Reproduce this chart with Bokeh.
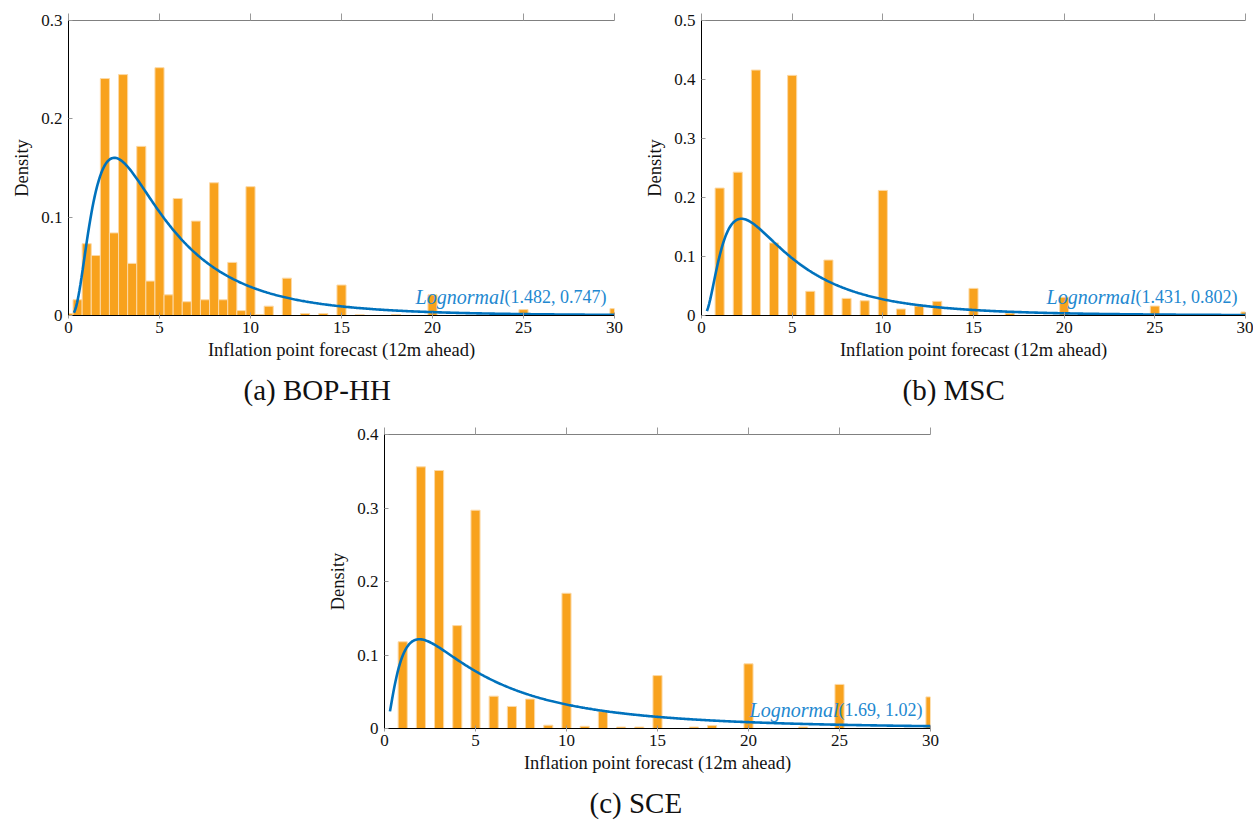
import numpy as np
from bokeh.plotting import figure
from bokeh.models import FixedTicker, LinearAxis, Title, Spacer, Range1d
from bokeh.layouts import row, column
from bokeh.core.properties import value
from bokeh.embed import file_html
from bokeh.resources import INLINE

# ---------------- data ----------------
x_ticks = [0, 5, 10, 15, 20, 25, 30]

# (a) BOP-HH: histogram bins (width 0.5) centred at these forecast values
bop_x = [0, 0.5, 1, 1.5, 2, 2.5, 3, 3.5, 4, 4.5, 5, 5.5, 6, 6.5, 7, 7.5, 8, 8.5,
         9, 9.5, 10, 10.5, 11, 12, 13, 14, 15, 16, 18, 20, 25, 30]
bop_density = [0.002, 0.016, 0.073, 0.061, 0.241, 0.084, 0.245, 0.053, 0.172, 0.035,
               0.252, 0.021, 0.119, 0.014, 0.096, 0.016, 0.135, 0.016, 0.054, 0.005,
               0.131, 0.001, 0.0095, 0.038, 0.002, 0.002, 0.031, 0.0008, 0.001,
               0.021, 0.006, 0.007]
bop_params = [1.482, 0.747]
bop_yticks = [0, 0.1, 0.2, 0.3]

# (b) MSC
msc_x = [1, 2, 3, 4, 5, 6, 7, 8, 9, 10, 11, 12, 13, 15, 17, 20, 25, 30]
msc_density = [0.216, 0.243, 0.416, 0.123, 0.407, 0.041, 0.094, 0.029, 0.025, 0.212,
               0.011, 0.016, 0.024, 0.046, 0.004, 0.031, 0.016, 0.006]
msc_params = [1.431, 0.802]
msc_yticks = [0, 0.1, 0.2, 0.3, 0.4, 0.5]

# (c) SCE
sce_x = [1, 2, 3, 4, 5, 6, 7, 8, 9, 10, 11, 12, 13, 14, 15, 17, 18, 20, 23, 25, 30]
sce_density = [0.118, 0.356, 0.351, 0.140, 0.297, 0.044, 0.030, 0.040, 0.0045, 0.184,
               0.003, 0.023, 0.002, 0.002, 0.072, 0.002, 0.004, 0.088, 0.002, 0.060,
               0.043]
sce_params = [1.69, 1.02]
sce_yticks = [0, 0.1, 0.2, 0.3, 0.4]

captions = ["(a) BOP-HH", "(b) MSC", "(c) SCE"]
param_texts = ["(1.482, 0.747)", "(1.431, 0.802)", "(1.69, 1.02)"]

# ---------------- style ----------------
FONT = "'Liberation Serif', serif"
BAR = "#F8A21D"
BAR_EDGE = "#FCD9A6"
CURVE = "#0072BD"
LABEL = "#2288D0"


def lognormal_pdf(x, mu, sigma):
    return np.exp(-(np.log(x) - mu) ** 2 / (2 * sigma ** 2)) / (x * sigma * np.sqrt(2 * np.pi))


def fmt(v):
    return "0" if v == 0 else ("%g" % v)


def panel(bx, bh, ymax, yticks, params, ptext, caption, fw, fh, bb, br, cap_off, ptext_w):
    p = figure(frame_width=fw, frame_height=fh, x_range=Range1d(0, 30),
               y_range=Range1d(0, ymax), output_backend="svg", toolbar_location=None,
               min_border_left=68, min_border_right=br, min_border_top=20,
               min_border_bottom=bb)
    p.outline_line_color = None
    p.xgrid.visible = False
    p.ygrid.visible = False

    p.vbar(x=bx, top=bh, width=0.5, bottom=0, fill_color=BAR, line_color=BAR_EDGE,
           line_width=1)

    xs = np.linspace(0.3, 30, 500)
    p.line(xs, lognormal_pdf(xs, params[0], params[1]), line_color=CURVE, line_width=2.6)

    p.text(x=[30], y=[0], text=[ptext], x_offset=-8, y_offset=-19, text_align="right",
           text_baseline="middle", text_font=value(FONT), text_font_size="18px",
           text_color=LABEL)
    p.text(x=[30], y=[0], text=["Lognormal"], x_offset=-8 - ptext_w, y_offset=-19,
           text_align="right", text_baseline="middle", text_font=value(FONT),
           text_font_size="20px", text_font_style="italic", text_color=LABEL)

    # bottom axis
    xa = p.xaxis[0]
    xa.ticker = FixedTicker(ticks=x_ticks)
    xa.minor_tick_line_color = None
    xa.axis_line_color = "black"
    xa.major_tick_line_color = "#999999"
    xa.major_tick_in = 3
    xa.major_tick_out = 3
    xa.major_label_standoff = 3
    xa.major_label_text_font = FONT
    xa.major_label_text_font_size = "17px"
    xa.major_label_text_color = "#111111"
    xa.axis_label = "Inflation point forecast (12m ahead)"
    xa.axis_label_text_font = FONT
    xa.axis_label_text_font_size = "18.5px"
    xa.axis_label_text_font_style = "normal"
    xa.axis_label_text_color = "#111111"
    xa.axis_label_standoff = 4

    # left axis
    ya = p.yaxis[0]
    ya.ticker = FixedTicker(ticks=yticks)
    ya.major_label_overrides = {t: fmt(t) for t in yticks}
    ya.minor_tick_line_color = None
    ya.axis_line_color = "black"
    ya.major_tick_line_color = "#999999"
    ya.major_tick_in = 4
    ya.major_tick_out = 0
    ya.major_label_standoff = 6
    ya.major_label_text_font = FONT
    ya.major_label_text_font_size = "17px"
    ya.major_label_text_color = "#111111"
    ya.axis_label = "Density"
    ya.axis_label_text_font = FONT
    ya.axis_label_text_font_size = "18.5px"
    ya.axis_label_text_font_style = "normal"
    ya.axis_label_text_color = "#111111"
    ya.axis_label_standoff = 6

    # top gray axis with outward ticks, no labels
    top = LinearAxis(ticker=FixedTicker(ticks=x_ticks))
    top.axis_line_color = "#808080"
    top.major_tick_line_color = "#999999"
    top.major_tick_out = 7
    top.major_tick_in = 0
    top.minor_tick_line_color = None
    top.major_label_text_font_size = "0px"
    top.major_label_standoff = 0
    top.major_label_text_color = None
    p.add_layout(top, "above")

    t = Title(text=caption, align="left", text_font=FONT, text_font_size="29px",
              text_font_style="normal", text_color="#111111", offset=cap_off, standoff=18)
    p.add_layout(t, "below")
    return p


pa = panel(bop_x, bop_density, 0.3, bop_yticks, bop_params, param_texts[0], captions[0],
           546, 295, 96, 19, 175, 102)
pb = panel(msc_x, msc_density, 0.5, msc_yticks, msc_params, param_texts[1], captions[1],
           544, 295, 96, 8, 201, 102)
pc = panel(sce_x, sce_density, 0.4, sce_yticks, sce_params, param_texts[2], captions[2],
           546, 294, 96, 10, 205, 84)

layout = column(row(pa, pb), row(Spacer(width=316, height=10), pc))

open("out.html", "w").write(file_html(layout, INLINE))
